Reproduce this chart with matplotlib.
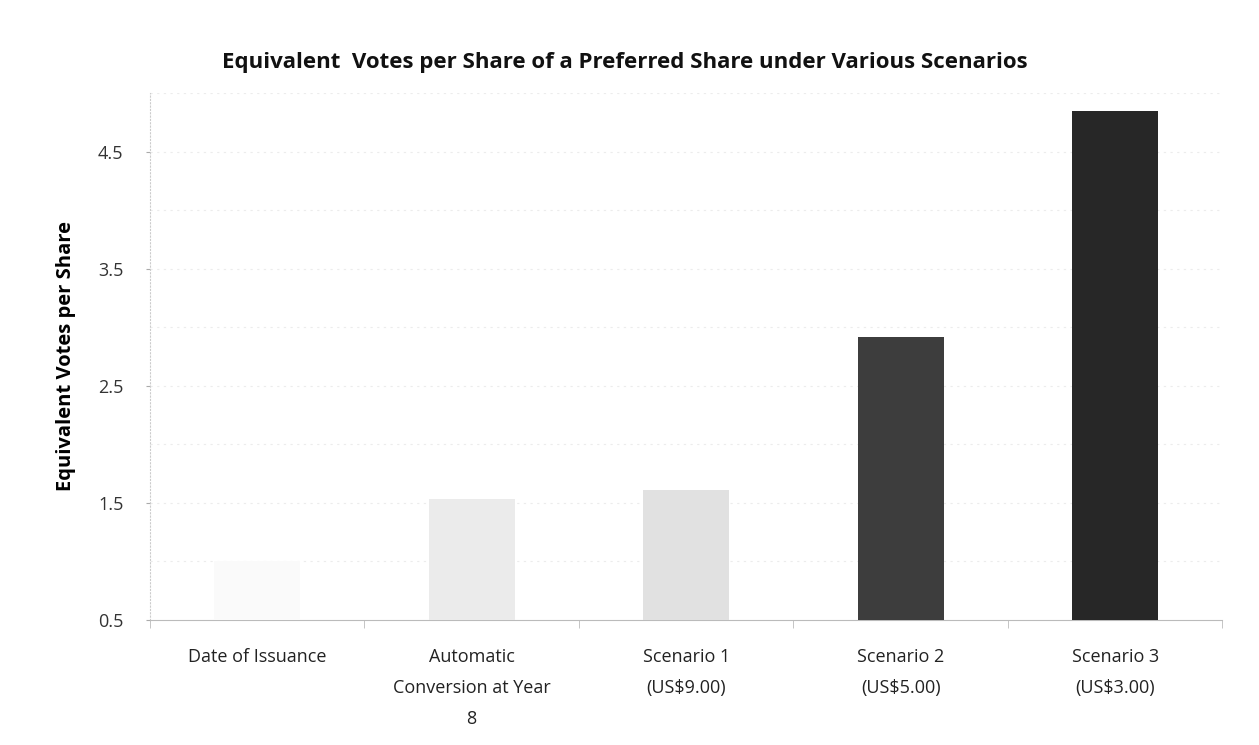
import numpy as np
import matplotlib.pyplot as plt

# data
categories = ['Date of Issuance', 'Automatic\nConversion at Year\n8',
              'Scenario 1\n(US$9.00)', 'Scenario 2\n(US$5.00)', 'Scenario 3\n(US$3.00)']
votes = [1.0, 1.53, 1.61, 2.92, 4.85]
bar_colors = ['#fafafa', '#ebebeb', '#e1e1e1', '#3d3d3d', '#272727']
y_ticks = [0.5, 1.5, 2.5, 3.5, 4.5]


def main():
    plt.rcParams['font.family'] = ['Open Sans', 'DejaVu Sans']
    fig = plt.figure(figsize=(12.59, 7.45), dpi=100)
    ax = fig.add_axes([0.119, 0.168, 0.852, 0.707])

    x = np.arange(len(categories))
    ax.bar(x, np.array(votes) - 0.5, bottom=0.5, width=0.4, color=bar_colors, zorder=3)

    ax.set_xlim(-0.5, len(categories) - 0.5)
    ax.set_ylim(0.5, 5.0)
    ax.set_yticks(y_ticks)
    ax.set_yticklabels(['%.1f' % t for t in y_ticks], fontsize=13, color='#333333')
    ax.set_xticks(x)
    ax.set_xticklabels(categories, fontsize=13, color='#222222', linespacing=1.95)
    ax.tick_params(axis='x', length=0, pad=20)
    ax.tick_params(axis='y', length=3, color='#aaaaaa', pad=16)

    # separators between categories on the x axis
    ax.set_xticks(np.arange(len(categories) + 1) - 0.5, minor=True)
    ax.tick_params(axis='x', which='minor', length=6, color='#bbbbbb', direction='out')

    # faint dotted gridlines every 0.5
    for g in np.arange(1.0, 5.01, 0.5):
        ax.axhline(g, color='#ececec', linestyle=(0, (2, 4)), linewidth=0.8, zorder=1)

    for side in ['top', 'right']:
        ax.spines[side].set_visible(False)
    ax.spines['left'].set_color('#cccccc')
    ax.spines['left'].set_linestyle((0, (1, 2)))
    ax.spines['bottom'].set_color('#bbbbbb')

    ax.set_ylabel('Equivalent Votes per Share', fontsize=14.5, fontweight='bold', labelpad=16)
    fig.text(0.496, 0.916, 'Equivalent  Votes per Share of a Preferred Share under Various Scenarios',
             ha='center', va='center', fontsize=16, fontweight='bold', color='#111111')

    fig.savefig('out.png', dpi=100)


if __name__ == "__main__":
    main()
